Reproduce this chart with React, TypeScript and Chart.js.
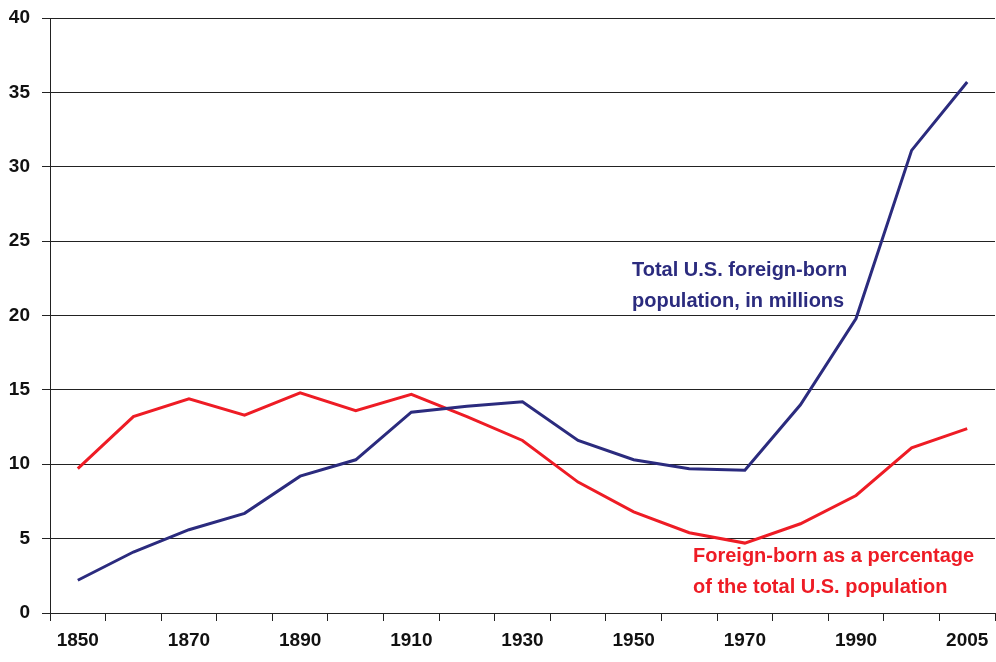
import React, { useEffect, useRef } from "react";
import { Chart, registerables } from "chart.js";

Chart.register(...registerables);

const years = ["1850","1860","1870","1880","1890","1900","1910","1920","1930","1940","1950","1960","1970","1980","1990","2000","2005"];
const foreignBornMillions = [2.2, 4.1, 5.6, 6.7, 9.2, 10.3, 13.5, 13.9, 14.2, 11.6, 10.3, 9.7, 9.6, 14.0, 19.8, 31.1, 35.7];
const foreignBornPercent = [9.7, 13.2, 14.4, 13.3, 14.8, 13.6, 14.7, 13.2, 11.6, 8.8, 6.8, 5.4, 4.7, 6.0, 7.9, 11.1, 12.4];
const blueLabel = ["Total U.S. foreign-born", "population, in millions"];
const redLabel = ["Foreign-born as a percentage", "of the total U.S. population"];

const BLUE = "#2B2B7E";
const RED = "#EE1C25";
const FONT = "'Liberation Sans', Arial, sans-serif";

const annotationPlugin = {
  id: "annotations",
  afterDatasetsDraw(chart: any) {
    const ctx = chart.ctx;
    const draw = (lines: string[], x: number, y: number, color: string) => {
      ctx.save();
      ctx.font = `bold 20px ${FONT}`;
      ctx.fillStyle = color;
      ctx.textAlign = "left";
      ctx.textBaseline = "alphabetic";
      lines.forEach((t, i) => {
        ctx.fillText(t, x, y + i * 31);
      });
      ctx.restore();
    };
    draw(blueLabel, 632, 276, BLUE);
    draw(redLabel, 693, 562, RED);
  },
};

export default function App() {
  const ref = useRef<HTMLCanvasElement>(null);
  useEffect(() => {
    const chart = new Chart(ref.current!, {
      type: "line",
      data: {
        labels: years,
        datasets: [
          {
            label: "Total U.S. foreign-born population, in millions",
            data: foreignBornMillions,
            borderColor: BLUE,
            backgroundColor: BLUE,
            borderWidth: 3,
            pointRadius: 0,
            tension: 0,
          },
          {
            label: "Foreign-born as a percentage of the total U.S. population",
            data: foreignBornPercent,
            borderColor: RED,
            backgroundColor: RED,
            borderWidth: 3,
            pointRadius: 0,
            tension: 0,
          },
        ],
      },
      options: {
        responsive: false,
        animation: false,
        devicePixelRatio: 1,
        layout: { padding: { top: 18, right: 1, left: 0, bottom: 0 } },
        plugins: { legend: { display: false }, tooltip: { enabled: false } },
        scales: {
          x: {
            type: "category",
            offset: true,
            grid: {
              offset: true,
              drawOnChartArea: false,
              drawTicks: true,
              tickLength: 8,
              color: "#222",
              lineWidth: 1,
            },
            border: { color: "#222", width: 1 },
            ticks: {
              autoSkip: false,
              maxRotation: 0,
              minRotation: 0,
              padding: 8,
              color: "#111",
              font: { family: FONT, size: 19, weight: "bold" },
              callback: (_v: any, i: number) => (i % 2 === 0 ? years[i] : ""),
            },
            afterFit: (s: any) => {
              s.height = 49;
              s.paddingLeft = 0;
              s.paddingRight = 0;
            },
          },
          y: {
            min: 0,
            max: 40,
            ticks: {
              stepSize: 5,
              padding: 12,
              color: "#111",
              font: { family: FONT, size: 19, weight: "bold" },
            },
            grid: { color: "#222", lineWidth: 1, tickLength: 8 },
            border: { color: "#222", width: 1 },
            afterFit: (s: any) => {
              s.width = 50;
              s.paddingTop = 0;
              s.paddingBottom = 0;
            },
          },
        },
      },
      plugins: [annotationPlugin],
    });
    return () => chart.destroy();
  }, []);
  return (
    <div style={{ position: "fixed", left: 0, top: 0, width: 996, height: 662, background: "#fff" }}>
      <canvas ref={ref} width={996} height={662} />
    </div>
  );
}
